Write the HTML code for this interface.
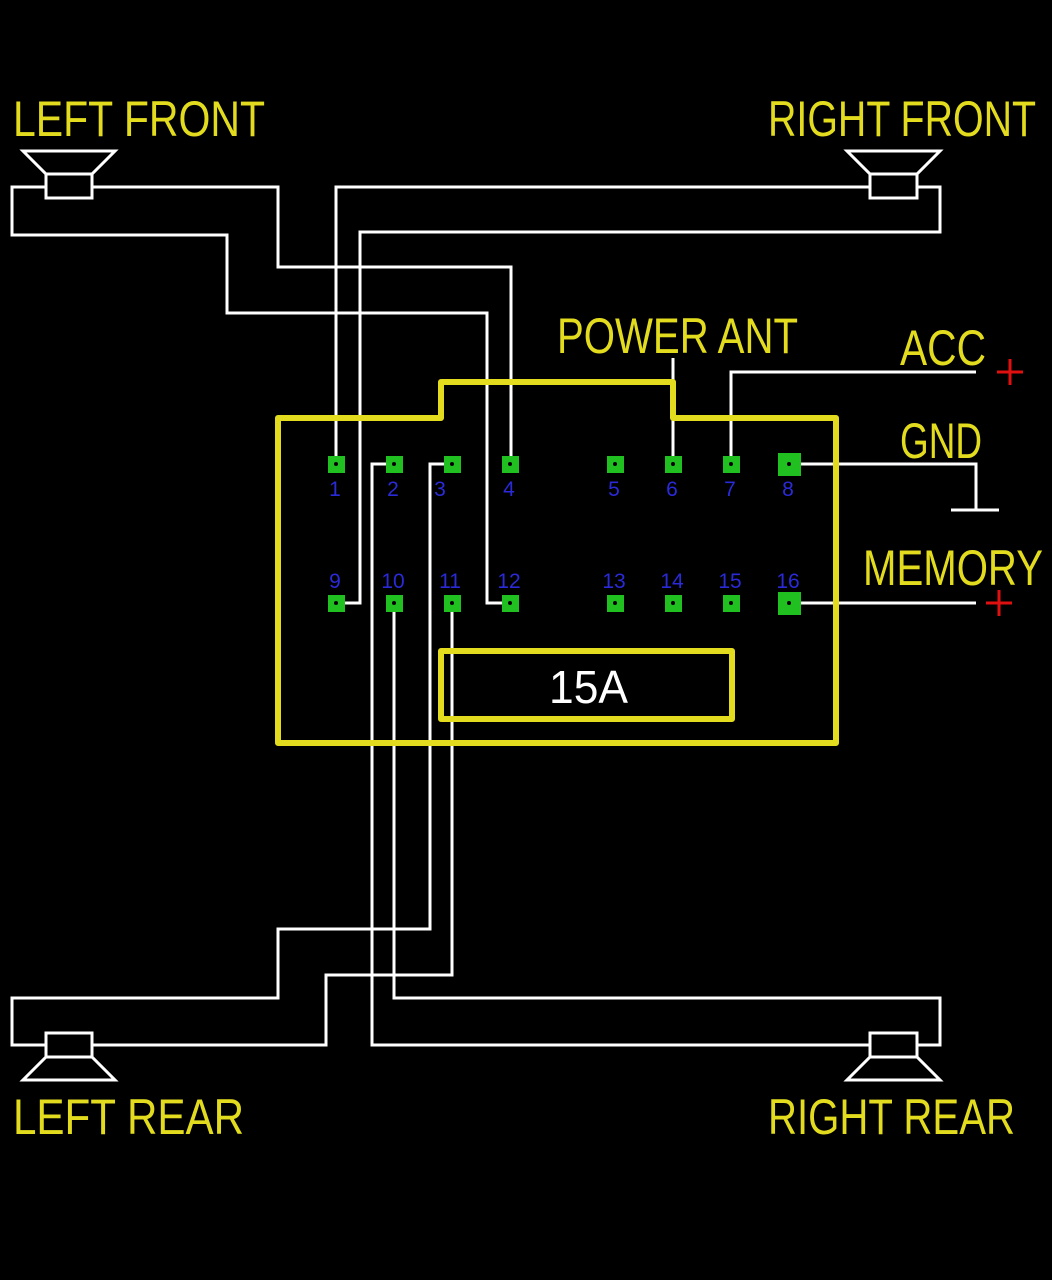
<!DOCTYPE html>
<html><head><style>html,body{margin:0;padding:0;background:#000}svg{display:block}</style></head>
<body>
<svg width="1052" height="1280" viewBox="0 0 1052 1280" xmlns="http://www.w3.org/2000/svg">
<rect width="1052" height="1280" fill="#000"/>
<g fill="none" stroke="#fff" stroke-width="3">
<!-- speakers -->
<path d="M23,151 H115 L92,174 H46 Z"/><rect x="46" y="174" width="46" height="24"/>
<path d="M847,151 H940 L917,174 H870 Z"/><rect x="870" y="174" width="47" height="24"/>
<path d="M23,1080 H115 L92,1057 H46 Z"/><rect x="46" y="1033" width="46" height="24"/>
<path d="M847,1080 H940 L917,1057 H870 Z"/><rect x="870" y="1033" width="47" height="24"/>
<!-- left front -->
<path d="M46,187 H12 V235 H227 V313 H487 V603 H510"/>
<path d="M92,187 H278 V267 H511 V464"/>
<!-- right front -->
<path d="M336,464 V187 H870"/>
<path d="M917,187 H940 V232 H360 V603 H336"/>
<!-- left rear -->
<path d="M46,1045 H12 V998 H278 V929 H430 V464 H452"/>
<path d="M92,1045 H326 V975 H452 V603"/>
<!-- right rear -->
<path d="M394,464 H372 V1045 H870"/>
<path d="M917,1045 H940 V998 H394 V603"/>
<!-- power -->
<path d="M673,464 V358"/>
<path d="M731,464 V372 H976"/>
<path d="M789,464 H976 V510 M951,510 H999"/>
<path d="M789,603 H976"/>
</g>
<!-- connector outline -->
<g fill="none" stroke="#e3dc1e" stroke-width="6" stroke-linejoin="round">
<path d="M278,418 H441 V382 H673 V418 H836 V743 H278 Z"/>
<rect x="441" y="651" width="291" height="68"/>
</g>
<!-- pins -->
<g fill="#1fc01f">
<rect x="328" y="456" width="17" height="17"/><rect x="386" y="456" width="17" height="17"/>
<rect x="444" y="456" width="17" height="17"/><rect x="502" y="456" width="17" height="17"/>
<rect x="607" y="456" width="17" height="17"/><rect x="665" y="456" width="17" height="17"/>
<rect x="723" y="456" width="17" height="17"/><rect x="778" y="453" width="23" height="23"/>
<rect x="328" y="595" width="17" height="17"/><rect x="386" y="595" width="17" height="17"/>
<rect x="444" y="595" width="17" height="17"/><rect x="502" y="595" width="17" height="17"/>
<rect x="607" y="595" width="17" height="17"/><rect x="665" y="595" width="17" height="17"/>
<rect x="723" y="595" width="17" height="17"/><rect x="778" y="592" width="23" height="23"/>
</g>
<g fill="#000">
<circle cx="336" cy="464" r="2"/><circle cx="394" cy="464" r="2"/><circle cx="452" cy="464" r="2"/><circle cx="510" cy="464" r="2"/>
<circle cx="615" cy="464" r="2"/><circle cx="673" cy="464" r="2"/><circle cx="731" cy="464" r="2"/><circle cx="789" cy="464" r="2"/>
<circle cx="336" cy="603" r="2"/><circle cx="394" cy="603" r="2"/><circle cx="452" cy="603" r="2"/><circle cx="510" cy="603" r="2"/>
<circle cx="615" cy="603" r="2"/><circle cx="673" cy="603" r="2"/><circle cx="731" cy="603" r="2"/><circle cx="789" cy="603" r="2"/>
</g>
<g fill="#2a2ad8" font-family="Liberation Sans, sans-serif" font-size="21" text-anchor="middle">
<text x="335" y="496">1</text><text x="393" y="496">2</text><text x="440" y="496">3</text><text x="509" y="496">4</text>
<text x="614" y="496">5</text><text x="672" y="496">6</text><text x="730" y="496">7</text><text x="788" y="496">8</text>
<text x="335" y="588">9</text><text x="393" y="588">10</text><text x="450" y="588">11</text><text x="509" y="588">12</text>
<text x="614" y="588">13</text><text x="672" y="588">14</text><text x="730" y="588">15</text><text x="788" y="588">16</text>
</g>
<g fill="#e3dc1e" font-family="Liberation Sans, sans-serif" font-size="50">
<text x="13" y="136" textLength="252" lengthAdjust="spacingAndGlyphs">LEFT FRONT</text>
<text x="768" y="136" textLength="268" lengthAdjust="spacingAndGlyphs">RIGHT FRONT</text>
<text x="13" y="1134" textLength="231" lengthAdjust="spacingAndGlyphs">LEFT REAR</text>
<text x="768" y="1134" textLength="247" lengthAdjust="spacingAndGlyphs">RIGHT REAR</text>
<text x="557" y="353" textLength="241" lengthAdjust="spacingAndGlyphs">POWER ANT</text>
<text x="900" y="365" textLength="86" lengthAdjust="spacingAndGlyphs">ACC</text>
<text x="900" y="458" textLength="82" lengthAdjust="spacingAndGlyphs">GND</text>
<text x="863" y="585" textLength="180" lengthAdjust="spacingAndGlyphs">MEMORY</text>
</g>
<text x="549" y="703" fill="#fff" font-family="Liberation Sans, sans-serif" font-size="46" textLength="79" lengthAdjust="spacingAndGlyphs">15A</text>
<g stroke="#e01010" stroke-width="3">
<path d="M997,372 H1023 M1010,359 V385"/>
<path d="M986,603 H1012 M999,590 V616"/>
</g>
</svg>
</body></html>
